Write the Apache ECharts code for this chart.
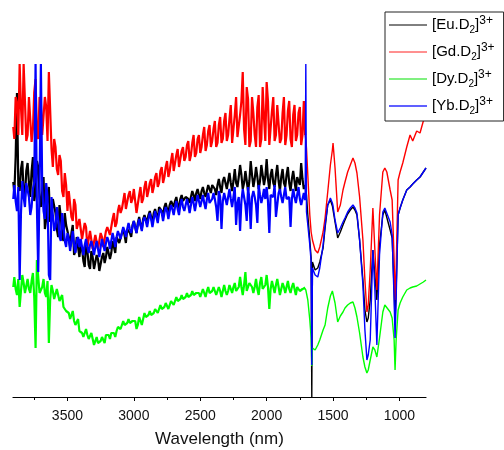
<!DOCTYPE html>
<html><head><meta charset="utf-8">
<script src="https://cdn.jsdelivr.net/npm/echarts@6/dist/echarts.min.js"></script>
<style>html,body{margin:0;padding:0;background:#fff}#c{width:504px;height:450px}</style>
</head><body><div id="c"></div>
<script>
// Wavenumber positions (x axis values as labelled on the axis)
const WAVENUMBER = [3908,
3900,3880,3860,3840,3820, 3800,3780,3760,3740,3720, 3700,3680,3660,3640,3620, 3600,3580,3560,3540,3520,
3500,3480,3460,3440,3420, 3400,3380,3360,3340,3320, 3300,3280,3260,3240,3220, 3200,3180,3160,3140,3120,
3100,3080,3060,3040,3020, 3000,2980,2960,2940,2920, 2900,2880,2860,2840,2820, 2800,2780,2760,2740,2720,
2700,2680,2660,2640,2620, 2600,2580,2560,2540,2520, 2500,2480,2460,2440,2420, 2400,2380,2360,2340,2320,
2300,2280,2260,2240,2220, 2200,2180,2160,2140,2120, 2100,2080,2060,2040,2020, 2000,1980,1960,1940,1920,
1900,1880,1860,1840,1820, 1800,1780,1760,1740,1720,
1710,1705,1700,1690,1675, 1665,1660,1655,1635,1615, 1600,1575,1560,1540,1520, 1505,1500,1485,1465,1445,
1425,1410,1390,1370,1350, 1335,1320,1300,1275,1260, 1245,1235,1220,1200,1185, 1170,1150,1125,1110,1095,
1070,1055,1040,1033,1025, 1010,995,975,945,920, 900,870,845,820,800];

// Extra readings in the noisy region, between the positions above
const WAVENUMBER_FINE = [
3890,3870,3850,3830,3810, 3790,3770,3750,3730,3710, 3690,3670,3650,3630,3610, 3590,3570,3550,3530,3510,
3490,3470,3450,3430,3410, 3390,3370,3350,3330,3310, 3290,3270,3250,3230,3210, 3190,3170,3150,3130,3110,
3090,3070,3050,3030,3010, 2990,2970,2950,2930,2910, 2890,2870,2850,2830,2810, 2790,2770,2750,2730,2710,
2690,2670,2650,2630,2610, 2590,2570,2550,2530,2510, 2490,2470,2450,2430,2410, 2390,2370,2350,2330,2310,
2290,2270,2250,2230,2210, 2190,2170,2150,2130,2110, 2090,2070,2050,2030,2010, 1990,1970,1950,1930,1910,
1890,1870,1850,1830,1810, 1790,1770,1750,1730];

// Offset transmittance signal (arbitrary units)
const EU_VALUES = [215,
204,304,206,236,200, 234,200,240,206,230, 190,220,178,210,180, 196,168,192,162,184,
170,150,172,146,162, 152,136,154,132,146, 128,142,126,140,134, 150,138,156,144,160,
156,168,154,170,160, 176,164,180,168,182, 174,186,174,188,178, 190,182,194,184,196,
190,200,188,202,194, 202,194,206,196,208, 198,210,200,212,204, 214,202,218,204,220,
208,224,206,228,210, 232,208,226,206,236, 210,230,208,232,212, 238,208,228,210,232,
206,228,210,230,206, 226,206,222,234,208,
212,207,202,182,157, 139,0,135,127,129, 135,149,169,192,197, 191,187,175,159,165,
172,177,183,187,190, 187,182,157,117,87, 75,79,97,147,122, 97,152,182,187,185,
167,159,107,75,107, 182,189,197,207,210, 213,217,220,225,229];
const EU_FINE = [
240,212,228,204,226, 214,226,196,236,200, 206,168,200,175,198, 184,160,180,156,172,
160,164,142,160,140, 148,130,146,128,140, 130,138,128,144,140, 148,144,154,160,154,
164,162,168,164,172, 170,174,172,178,182, 182,180,184,182,190, 186,190,188,192,194,
196,192,198,196,200, 198,200,202,204,202, 206,204,206,208,212, 208,212,210,216,214,
216,214,216,214,220, 222,214,224,216,222, 218,220,216,222,220, 218,222,214,222,216,
220,214,222,214,218, 216,220,212,218];

const GD_VALUES = [270,
258,294,333,262,296, 262,298,268,318,258, 294,260,290,325,248, 258,228,242,206,224,
186,204,176,192,166, 176,160,170,152,164, 150,162,148,160,152, 170,162,178,170,186,
184,196,188,202,194, 208,184,202,194,210, 200,214,204,220,210, 226,214,230,220,236,
226,242,230,246,236, 252,236,254,240,258, 244,262,246,266,250, 268,250,272,254,276,
256,278,254,282,260, 282,325,252,298,256, 284,250,302,258,280, 315,252,286,256,292,
254,284,252,286,258, 282,256,284,252,296,
262,257,249,222,182, 165,161,157,147,144, 150,165,179,205,232, 247,254,229,185,192,
207,215,225,232,239, 234,224,200,157,117, 85,92,127,189,147, 107,182,225,229,225,
207,197,137,97,127, 217,225,234,250,262, 256,266,264,276,279];
const GD_FINE = [
300,262,290,333,256, 300,255,305,262,300, 262,300,256,327,230, 250,222,236,200,212,
206,180,198,168,178, 158,174,150,166,148, 162,148,164,150,166, 172,164,184,174,192,
188,204,190,206,198, 196,182,210,198,216, 206,218,210,224,214, 230,220,236,226,244,
234,248,232,250,240, 256,242,262,244,262, 250,270,252,272,256, 276,254,280,258,284,
262,292,256,300,258, 296,268,310,250,300, 262,290,250,310,256, 296,250,300,262,290,
258,300,262,296,250, 292,262,290,262];

const DY_VALUES = [110,
120,102,90,122,104, 118,104,124,49,120, 102,118,100,54,112, 98,108,96,102,90,
88,78,86,72,78, 68,60,68,58,64, 52,60,52,60,54, 64,58,66,60,70,
68,76,70,78,72, 78,68,80,72,84, 78,86,80,88,84, 92,86,94,88,96,
92,100,94,102,96, 104,98,106,100,106, 100,108,100,110,102, 110,102,110,100,112,
102,112,104,114,106, 120,102,125,104,116, 104,118,102,120,106, 122,88,116,104,118,
102,114,104,116,104, 114,102,112,104,110,
109,107,105,97,77, 59,31,49,47,52, 57,67,72,89,101, 106,107,94,75,81,
85,89,92,94,95, 89,80,64,40,30, 24,27,37,50,47, 40,59,85,92,94,
85,79,57,27,57, 87,94,100,107,109, 110,111,113,115,117];
const DY_FINE = [
108,118,106,114,102, 108,116,100,137,104, 110,104,116,98,106, 100,102,94,90,86,
84,80,76,74,66, 64,64,62,60,58, 56,54,56,58,62, 62,64,64,66,70,
72,72,74,74,76, 76,72,76,78,80, 82,82,84,86,88, 88,90,92,92,94,
96,96,98,98,100, 100,102,102,104,104, 104,104,106,104,106, 106,106,106,106,106,
106,108,110,106,110, 110,112,106,114,110, 110,108,114,108,112, 110,108,110,112,110,
108,110,110,108,110, 108,110,106,108];

const YB_VALUES = [198,
212,186,117,216,190, 214,182,208,333,125, 333,186,214,122,200, 166,190,160,184,156,
164,146,166,144,160, 158,142,158,144,156, 142,156,140,158,146, 160,148,164,150,166,
158,170,160,174,164, 176,164,178,166,180, 170,184,170,186,174, 188,176,190,178,192,
182,196,182,198,186, 198,184,200,186,202, 190,202,188,204,192, 204,190,206,168,204,
192,208,190,210,194, 166,208,192,210,168, 206,192,212,194,208, 210,164,204,212,192,
208,194,210,196,170, 208,194,210,192,204,
197,333,185,172,152, 135,32,129,122,120, 129,152,172,192,199, 194,191,177,164,169,
175,179,185,189,192, 189,184,157,112,67, 37,42,57,147,107, 52,142,185,189,187,
175,162,97,59,97, 182,189,197,207,210, 213,217,220,225,229];
const YB_FINE = [
196,210,184,200,214, 200,190,215,190,212, 208,178,200,117,182, 170,178,156,172,150,
158,156,152,156,150, 150,152,150,152,150, 150,148,150,152,154, 156,156,158,160,162,
164,166,168,168,170, 170,172,172,176,176, 178,178,178,180,184, 184,184,186,186,188,
190,188,192,190,192, 192,192,194,194,196, 196,194,198,194,198, 198,176,200,196,198,
200,198,200,172,200, 196,200,176,198,200, 200,174,202,200,198, 196,202,200,180,204,
200,202,198,200,198, 200,202,198,198];

const SERIES_NAMES = ['[Eu.D2]3+', '[Gd.D2]3+', '[Dy.D2]3+', '[Yb.D2]3+'];
const SERIES_VALUES = [EU_VALUES, GD_VALUES, DY_VALUES, YB_VALUES];
const SERIES_FINE = [EU_FINE, GD_FINE, DY_FINE, YB_FINE];
const SERIES_COLORS = ['#000000', '#ff0000', '#00ff00', '#0000ff'];
const LEGEND_COLORS = ['#000000', '#ff2020', '#80f080', '#6060ff'];
const LEGEND_WIDTHS = [1, 1, 2, 2];
const MAJOR_TICKS = [3500, 3000, 2500, 2000, 1500, 1000];
const MINOR_TICKS = [3750, 3250, 2750, 2250, 1750, 1250];
const X_MIN = 800, X_MAX = 3910;
const X_NAME = 'Wavelength (nm)';
const NOISY_END = 1720;   // noisy (thick band) part ends here

const FONT = '"Liberation Sans", Arial, Helvetica, sans-serif';
const chart = echarts.init(document.getElementById('c'), null, {renderer: 'canvas'});

const series = [];
SERIES_NAMES.forEach((name, k) => {
  const pts = WAVENUMBER.map((w, i) => [w, SERIES_VALUES[k][i]])
    .concat(WAVENUMBER_FINE.map((w, i) => [w, SERIES_FINE[k][i]]))
    .sort((a, b) => b[0] - a[0]);
  const split = pts.findIndex(p => p[0] === NOISY_END);
  const base = {
    name: name, type: 'line', xAxisIndex: 0, yAxisIndex: 0,
    showSymbol: false, symbol: 'none', sampling: null, smooth: false,
    itemStyle: {color: SERIES_COLORS[k]},
    emphasis: {disabled: true}, silent: true, z: 2 + k
  };
  series.push(Object.assign({}, base, {
    data: pts.slice(0, split + 2),
    lineStyle: {color: SERIES_COLORS[k], width: 2.2, join: 'bevel'}
  }));
  series.push(Object.assign({}, base, {
    data: pts.slice(split),
    lineStyle: {color: SERIES_COLORS[k], width: 1.4}
  }));
});

const option = {
  animation: false,
  backgroundColor: '#ffffff',
  grid: {left: 13, right: 78, top: 47, bottom: 53, containLabel: false, outerBoundsMode: 'none'},
  xAxis: [{
    type: 'value', min: X_MIN, max: X_MAX, inverse: true, position: 'bottom',
    axisLine: {show: true, onZero: false, lineStyle: {color: '#000', width: 1.2}},
    axisTick: {show: true, inside: false, length: 4, customValues: MAJOR_TICKS, lineStyle: {color: '#000', width: 1}},
    axisLabel: {show: true, customValues: MAJOR_TICKS, fontSize: 14, margin: 12, color: '#111', fontFamily: FONT,
      formatter: v => String(v)},
    splitLine: {show: false},
    minorTick: {show: false},
    name: X_NAME, nameLocation: 'middle', nameGap: 34,
    nameTextStyle: {fontSize: 17, color: '#111', fontFamily: FONT}
  }, {
    type: 'value', min: X_MIN, max: X_MAX, inverse: true, position: 'bottom',
    axisLine: {show: false, onZero: false},
    axisTick: {show: true, inside: false, length: 3, customValues: MINOR_TICKS, lineStyle: {color: '#000', width: 1}},
    axisLabel: {show: false},
    splitLine: {show: false}
  }],
  yAxis: {type: 'value', min: 0, max: 350, show: false, splitLine: {show: false}},
  legend: {
    show: true,
    orient: 'vertical',
    left: 385, top: 12,
    padding: [3, 9, 5, 3],
    itemGap: 7,
    itemWidth: 38,
    itemHeight: 14,
    borderColor: '#222',
    borderWidth: 1,
    borderRadius: 0,
    backgroundColor: '#fff',
    selectedMode: false,
    data: SERIES_NAMES.map((n, k) => ({
      name: n,
      itemStyle: {color: LEGEND_COLORS[k], opacity: 0},
      lineStyle: {color: LEGEND_COLORS[k], width: LEGEND_WIDTHS[k]}
    })),
    formatter: function (name) {
      const el = name.slice(1, 3);
      return '{m|[' + el + '.D}{s|2}{m|]}{p|3+}';
    },
    textStyle: {
      color: '#000',
      fontFamily: FONT,
      fontSize: 15,
      rich: {
        m: {fontSize: 15, fontFamily: FONT, color: '#000', lineHeight: 20},
        s: {fontSize: 10, fontFamily: FONT, color: '#000', lineHeight: 10, verticalAlign: 'bottom'},
        p: {fontSize: 12, fontFamily: FONT, color: '#000', lineHeight: 12, verticalAlign: 'top'}
      }
    }
  },
  series: series
};
chart.setOption(option);
</script>
</body></html>
